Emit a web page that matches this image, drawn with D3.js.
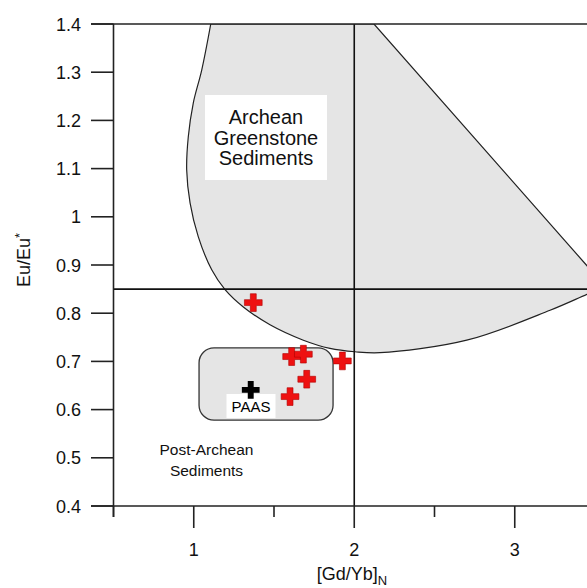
<!DOCTYPE html>
<html>
<head>
<meta charset="utf-8">
<script src="https://cdn.jsdelivr.net/npm/d3@7"></script>
<style>
body { margin: 0; background: #fff; }
svg { display: block; font-family: "Liberation Sans", Arial, Helvetica, sans-serif; }
</style>
</head>
<body>
<div id="plot"></div>
<script>
// samples: [Gd/Yb]N, Eu/Eu*
var sampleX = [1.371, 1.610, 1.683, 1.926, 1.704, 1.600];
var sampleY = [0.822, 0.710, 0.715, 0.701, 0.663, 0.627];
var paas = [1.355, 0.641];

// archean greenstone field outline (curved part, then straight edge)
var fieldCurveX = [1.106, 1.050, 0.997, 0.966, 0.956, 0.977, 1.028, 1.112, 1.195, 1.309, 1.475, 1.683, 1.849, 2.005, 2.160, 2.701, 3.220, 3.450, 3.565];
var fieldCurveY = [1.400, 1.305, 1.236, 1.166, 1.097, 1.029, 0.959, 0.890, 0.849, 0.813, 0.776, 0.744, 0.727, 0.720, 0.718, 0.744, 0.806, 0.839, 0.855];
var fieldEdgeX = [2.123];
var fieldEdgeY = [1.400];

// post-archean box
var boxX = [1.033, 1.868];
var boxY = [0.578, 0.728];

var xMajor = [1, 2, 3];
var xMinor = [0.5, 1.5, 2.5];
var yTicks = [0.4, 0.5, 0.6, 0.7, 0.8, 0.9, 1, 1.1, 1.2, 1.3, 1.4];

var W = 587, H = 588;
var pLeft = 113.5, pTop = 24, pRight = 595, pBottom = 506;

var svg = d3.select("#plot").append("svg")
    .attr("width", W)
    .attr("height", H);

var x = d3.scaleLinear().domain([0.5, 3.5]).range([pLeft, pRight]);
var y = d3.scaleLinear().domain([0.4, 1.4]).range([pBottom, pTop]);

svg.append("clipPath").attr("id", "clip")
    .append("rect")
    .attr("x", pLeft).attr("y", pTop)
    .attr("width", pRight - pLeft).attr("height", pBottom - pTop);

var g = svg.append("g").attr("clip-path", "url(#clip)");

// field
var curvePts = fieldCurveX.map(function(d, i) { return [x(d), y(fieldCurveY[i])]; });
var edgePts = fieldEdgeX.map(function(d, i) { return [x(d), y(fieldEdgeY[i])]; });
var fieldPath = d3.line().curve(d3.curveCatmullRom)(curvePts);
edgePts.forEach(function(p) { fieldPath += "L" + p[0] + "," + p[1]; });
fieldPath += "Z";

g.append("path")
    .attr("d", fieldPath)
    .style("fill", "#e5e5e5")
    .style("stroke", "#222")
    .style("stroke-width", 1.2);

// reference lines
g.append("line")
    .attr("x1", x(0.5)).attr("x2", x(3.5))
    .attr("y1", y(0.85)).attr("y2", y(0.85))
    .style("stroke", "#111").style("stroke-width", 1.6);

svg.append("line")
    .attr("x1", x(2)).attr("x2", x(2))
    .attr("y1", y(1.4)).attr("y2", y(0.4))
    .style("stroke", "#111").style("stroke-width", 1.6);

// post-archean box
svg.append("rect")
    .attr("x", x(boxX[0])).attr("y", y(boxY[1]))
    .attr("width", x(boxX[1]) - x(boxX[0]))
    .attr("height", y(boxY[0]) - y(boxY[1]))
    .attr("rx", 15).attr("ry", 15)
    .style("fill", "#e5e5e5")
    .style("stroke", "#333")
    .style("stroke-width", 1.3);

// archean label
svg.append("rect")
    .attr("x", 205).attr("y", 95)
    .attr("width", 122).attr("height", 85)
    .style("fill", "#fff");

var arch = svg.append("text")
    .attr("text-anchor", "middle")
    .style("font-size", "20px")
    .style("fill", "#111");
["Archean", "Greenstone", "Sediments"].forEach(function(t, i) {
    arch.append("tspan").attr("x", 266).attr("y", 124 + i * 20.5).text(t);
});

var post = svg.append("text")
    .attr("text-anchor", "middle")
    .style("font-size", "15.5px")
    .style("fill", "#111");
["Post-Archean", "Sediments"].forEach(function(t, i) {
    post.append("tspan").attr("x", 206.5).attr("y", 455 + i * 21).text(t);
});

// PAAS label
svg.append("rect")
    .attr("x", 226.5).attr("y", 394)
    .attr("width", 49).attr("height", 24)
    .style("fill", "#fff");
svg.append("text")
    .attr("x", 251).attr("y", 412)
    .attr("text-anchor", "middle")
    .style("font-size", "15px")
    .style("fill", "#000")
    .text("PAAS");

// points
var cross = d3.symbol().type(d3.symbolCross).size(175);

svg.selectAll(".sample")
    .data(sampleX)
    .enter().append("path")
    .attr("class", "sample")
    .attr("d", cross)
    .attr("transform", function(d, i) { return "translate(" + x(d) + "," + y(sampleY[i]) + ")"; })
    .style("fill", "#ee1111")
    .style("stroke", "#b00000")
    .style("stroke-width", 0.6);

svg.append("path")
    .attr("d", cross)
    .attr("transform", "translate(" + x(paas[0]) + "," + y(paas[1]) + ")")
    .style("fill", "#000");

// axes frame
svg.append("line")
    .attr("x1", 91).attr("x2", W)
    .attr("y1", y(1.4)).attr("y2", y(1.4))
    .style("stroke", "#222").style("stroke-width", 1.6);
svg.append("line")
    .attr("x1", 91).attr("x2", W)
    .attr("y1", y(0.4)).attr("y2", y(0.4))
    .style("stroke", "#222").style("stroke-width", 1.6);
svg.append("line")
    .attr("x1", pLeft).attr("x2", pLeft)
    .attr("y1", y(1.4)).attr("y2", pBottom + 11)
    .style("stroke", "#222").style("stroke-width", 1.6);

// y ticks
svg.selectAll(".ytick")
    .data(yTicks)
    .enter().append("line")
    .attr("x1", 91).attr("x2", pLeft)
    .attr("y1", function(d) { return y(d); })
    .attr("y2", function(d) { return y(d); })
    .style("stroke", "#222").style("stroke-width", 1.6);

svg.selectAll(".ylab")
    .data(yTicks)
    .enter().append("text")
    .attr("x", 81)
    .attr("y", function(d) { return y(d) + 6.5; })
    .attr("text-anchor", "end")
    .style("font-size", "18px")
    .style("fill", "#111")
    .text(function(d) { return d; });

// x ticks
svg.selectAll(".xtick")
    .data(xMajor)
    .enter().append("line")
    .attr("x1", function(d) { return x(d); })
    .attr("x2", function(d) { return x(d); })
    .attr("y1", pBottom).attr("y2", pBottom + 22)
    .style("stroke", "#222").style("stroke-width", 1.6);

svg.selectAll(".xminor")
    .data(xMinor)
    .enter().append("line")
    .attr("x1", function(d) { return x(d); })
    .attr("x2", function(d) { return x(d); })
    .attr("y1", pBottom).attr("y2", pBottom + 11)
    .style("stroke", "#222").style("stroke-width", 1.6);

svg.selectAll(".xlab")
    .data(xMajor)
    .enter().append("text")
    .attr("x", function(d) { return x(d); })
    .attr("y", 556)
    .attr("text-anchor", "middle")
    .style("font-size", "18px")
    .style("fill", "#111")
    .text(function(d) { return d; });

// axis titles
var xt = svg.append("text")
    .attr("x", 352).attr("y", 580)
    .attr("text-anchor", "middle")
    .style("font-size", "18px")
    .style("fill", "#111");
xt.append("tspan").text("[Gd/Yb]");
xt.append("tspan").attr("dy", 5).style("font-size", "13px").text("N");

var yt = svg.append("text")
    .attr("transform", "translate(30,260) rotate(-90)")
    .attr("text-anchor", "middle")
    .style("font-size", "18px")
    .style("fill", "#111");
yt.append("tspan").text("Eu/Eu");
yt.append("tspan").attr("dy", -6).style("font-size", "13px").text("*");
</script>
</body>
</html>
